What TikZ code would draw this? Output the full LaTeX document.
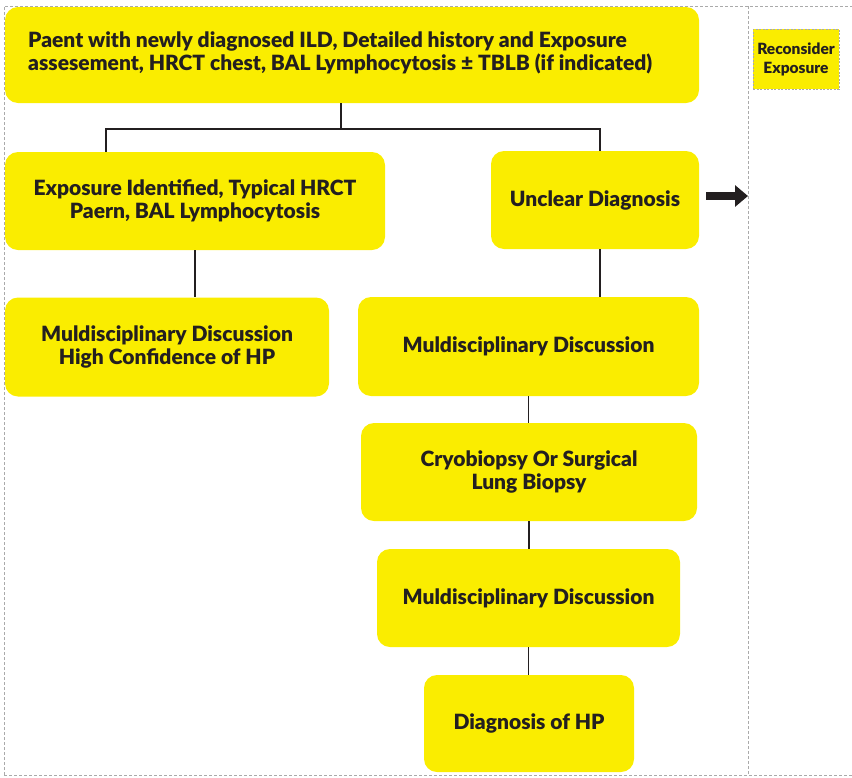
\documentclass[tikz,border=0pt]{standalone}
\usepackage{fontspec}
\setmainfont{Lato}[BoldFont={Lato Black}]
\usetikzlibrary{arrows.meta}
\definecolor{ybox}{RGB}{250,237,0}
\definecolor{ink}{RGB}{35,31,32}
\definecolor{frame}{RGB}{170,170,170}
\begin{document}
\begin{tikzpicture}[x=1pt,y=-1pt,
  box/.style={fill=ybox,draw=none,rounded corners=13pt,inner sep=0pt,
    font=\fontsize{21}{23}\selectfont\bfseries,text=ink,align=center},
  link/.style={draw=ink,line width=1.1pt},
  frameline/.style={draw=frame,dashed,dash pattern=on 3pt off 2pt,line width=0.8pt}]
\useasboundingbox (0,0) rectangle (852,777);
% frame
\draw[frameline] (4,775) -- (4,6) -- (852,6);
\draw[frameline] (4,775) -- (852,775);
\draw[frameline] (748,6) -- (748,775);
% boxes
\node[box,minimum width=694pt,minimum height=96pt] (top) at (352,55) {};
\node[anchor=west,font=\fontsize{21}{23}\selectfont\bfseries,text=ink,align=left,inner sep=0pt] (toptext) at (28,53)
  {Paent with newly diagnosed ILD, Detailed history and Exposure\\assesement, HRCT chest, BAL Lymphocytosis ± TBLB (if indicated)};
\node[box,minimum width=380pt,minimum height=98pt] (left1) at (195,201)
  {Exposure Identified, Typical HRCT\\Paern, BAL Lymphocytosis};
\node[box,minimum width=208pt,minimum height=98pt] (unclear) at (595,200) {Unclear Diagnosis};
\node[box,minimum width=324pt,minimum height=99pt] (lmdd) at (167,347)
  {Muldisciplinary Discussion\\High Confidence of HP};
\node[box,minimum width=341pt,minimum height=99pt] (rmdd1) at (528.5,346.5) {Muldisciplinary Discussion};
\node[box,minimum width=336pt,minimum height=98pt] (cryo) at (529,472)
  {Cryobiopsy Or Surgical\\Lung Biopsy};
\node[box,minimum width=303pt,minimum height=98pt] (rmdd2) at (528.5,598) {Muldisciplinary Discussion};
\node[box,minimum width=210pt,minimum height=97pt] (diag) at (529,723.5) {Diagnosis of HP};
\node[fill=ybox,draw=frame,dashed,dash pattern=on 2pt off 1.5pt,line width=0.6pt,
  minimum width=86pt,minimum height=60pt,inner sep=0pt,align=center,
  font=\fontsize{15.5}{19}\selectfont\bfseries,text=ink] (recon) at (796,59) {Reconsider\\Exposure};
% connectors
\coordinate (jc) at (341,129);
\coordinate (jl) at (106,129);
\coordinate (jr) at (600,129);
\draw[link] (jc |- top.south) -- (jc);
\draw[link] (jl |- left1.north) -- (jl) -- (jr) -- (jr |- unclear.north);
\draw[link] (left1.south) -- (left1.south |- lmdd.north);
\draw[link] (jr |- unclear.south) -- (jr |- rmdd1.north);
\draw[link] (rmdd1.south) -- (rmdd1.south |- cryo.north);
\draw[link] (cryo.south) -- (cryo.south |- rmdd2.north);
\draw[link] (rmdd2.south) -- (rmdd2.south |- diag.north);
% arrow
\coordinate (arrS) at (706,196);
\coordinate (arrE) at (748,196);
\draw[draw=ink,line width=8pt,-{Triangle[length=13pt,width=21pt]}] (arrS) -- (arrE);
\end{tikzpicture}
\end{document}
